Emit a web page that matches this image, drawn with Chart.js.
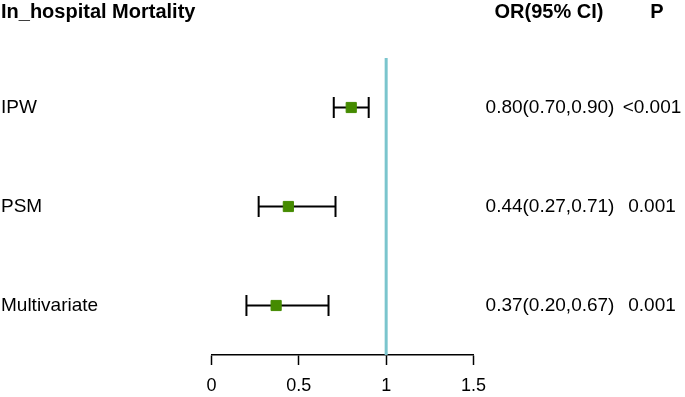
<!DOCTYPE html>
<html>
<head>
<meta charset="utf-8">
<script src="https://cdn.jsdelivr.net/npm/chart.js@4.4.1/dist/chart.umd.min.js"></script>
<style>
  html, body { margin: 0; padding: 0; background: #fff; }
  #wrap { width: 685px; height: 397px; position: relative; }
</style>
</head>
<body>
<div id="wrap"><canvas id="forest"></canvas></div>
<script>
// rows, top to bottom
const rowLabels = ["IPW", "PSM", "Multivariate"];
const rowPos = [3, 2, 1];
const oddsRatio = [0.80, 0.44, 0.37];
const ciLow = [0.70, 0.27, 0.20];
const ciHigh = [0.90, 0.71, 0.67];
const pValues = ["<0.001", "0.001", "0.001"];
const xTicks = [0, 0.5, 1, 1.5];
const refValue = 1;

const titleText = "In_hospital Mortality";
const orHeader = "OR(95% CI)";
const pHeader = "P";

const FONT = "'Liberation Sans', Arial, sans-serif";

function fmt(v) {
  return v.toFixed(2);
}

const datasets = [];

// reference line at OR = 1
datasets.push({
  type: "line",
  data: [{ x: refValue, y: 0.5 }, { x: refValue, y: 3.52 }],
  borderColor: "#7AC5CD",
  borderWidth: 3,
  pointRadius: 0,
  order: 3
});

// confidence intervals with caps
rowPos.forEach((y, i) => {
  datasets.push({
    type: "line",
    data: [{ x: ciLow[i], y: y }, { x: ciHigh[i], y: y }],
    borderColor: "#000",
    borderWidth: 2,
    pointStyle: "line",
    rotation: 90,
    pointRadius: 10.5,
    pointBorderWidth: 2,
    pointBorderColor: "#000",
    order: 2
  });
});

// point estimates
datasets.push({
  type: "scatter",
  data: rowPos.map((y, i) => ({ x: oddsRatio[i], y: y })),
  pointStyle: "rect",
  pointRadius: 7.2,
  backgroundColor: "#458B00",
  borderColor: "#458B00",
  borderWidth: 1,
  order: 1
});

const textPlugin = {
  id: "forestText",
  afterDraw(chart) {
    const ctx = chart.ctx;
    const yScale = chart.scales.y;
    ctx.save();
    ctx.fillStyle = "#000";
    ctx.textBaseline = "alphabetic";

    ctx.font = "bold 20px " + FONT;
    ctx.textAlign = "left";
    ctx.fillText(titleText, 1, 18);
    ctx.textAlign = "center";
    ctx.fillText(orHeader, 549, 18);
    ctx.fillText(pHeader, 657, 18);

    ctx.font = "19px " + FONT;
    ctx.textBaseline = "middle";
    rowPos.forEach((y, i) => {
      const py = yScale.getPixelForValue(y);
      ctx.textAlign = "left";
      ctx.fillText(rowLabels[i], 1, py);
      ctx.textAlign = "center";
      ctx.fillText(fmt(oddsRatio[i]) + "(" + fmt(ciLow[i]) + "," + fmt(ciHigh[i]) + ")", 550, py);
      ctx.fillText(pValues[i], 652, py);
    });
    ctx.restore();
  }
};

new Chart(document.getElementById("forest"), {
  data: { datasets: datasets },
  options: {
    responsive: true,
    maintainAspectRatio: false,
    animation: false,
    layout: {
      padding: { left: 211.5, right: 211.5, top: 58, bottom: 0 }
    },
    plugins: {
      legend: { display: false },
      tooltip: { enabled: false }
    },
    scales: {
      x: {
        type: "linear",
        min: 0,
        max: 1.5,
        afterBuildTicks: (scale) => {
          scale.ticks = xTicks.map(v => ({ value: v }));
        },
        afterFit: (scale) => { scale.height = 42; },
        border: { display: true, color: "#000", width: 1.5 },
        grid: {
          drawOnChartArea: false,
          drawTicks: true,
          tickLength: 10,
          tickColor: "#000",
          tickWidth: 1.5
        },
        ticks: {
          color: "#000",
          padding: 10,
          font: { family: FONT, size: 18 },
          maxRotation: 0,
          callback: (v) => String(v)
        }
      },
      y: {
        type: "linear",
        display: false,
        min: 0.5,
        max: 3.5
      }
    }
  },
  plugins: [textPlugin]
});
</script>
</body>
</html>
